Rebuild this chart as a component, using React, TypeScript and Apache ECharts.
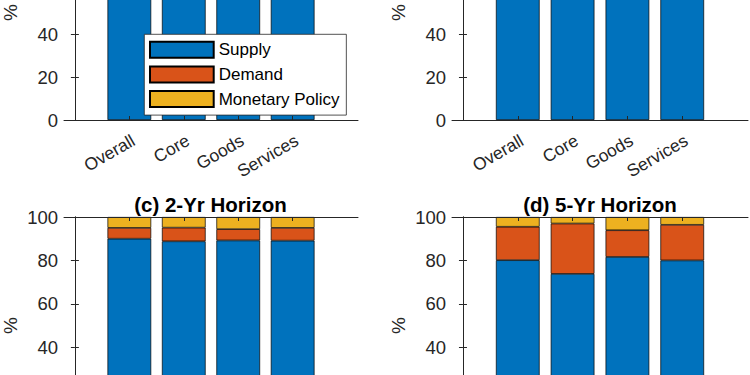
import React, { useEffect, useRef } from "react";
import * as echarts from "echarts";

const categories = ["Overall", "Core", "Goods", "Services"];
const seriesNames = ["Supply", "Demand", "Monetary Policy"];
const colors = ["#0072BD", "#D95319", "#EDB120"];

// (a) and (b): tops are outside the visible crop (estimated)
const supplyA = [98.5, 98.0, 98.6, 97.8];
const demandA = [0.8, 1.1, 0.7, 1.2];
const policyA = [0.7, 0.9, 0.7, 1.0];

const supplyB = [95.5, 94.8, 95.6, 94.9];
const demandB = [2.5, 3.1, 2.2, 3.0];
const policyB = [2.0, 2.1, 2.2, 2.1];

// (c) 2-Yr Horizon
const supplyC = [90.0, 88.8, 89.2, 89.1];
const demandC = [5.0, 6.3, 5.2, 5.9];
const policyC = [5.0, 4.9, 5.6, 5.0];

// (d) 5-Yr Horizon
const supplyD = [80.1, 73.8, 81.6, 80.0];
const demandD = [15.4, 23.2, 12.3, 16.4];
const policyD = [4.5, 3.0, 6.1, 3.6];

const panels = [
  [supplyA, demandA, policyA],
  [supplyB, demandB, policyB],
  [supplyC, demandC, policyC],
  [supplyD, demandD, policyD],
];

const yTicksTop = [0, 20, 40];
const yTicksBottom = [40, 60, 80, 100];

const FONT = "'Liberation Sans', Arial, Helvetica, sans-serif";
const INK = "#262626";
const SHIFT = 100; // chart canvas starts 100px above the visible window

export default function App() {
  const ref = useRef<HTMLDivElement>(null);

  useEffect(() => {
    document.body.style.margin = "0";
    if (!ref.current) return;
    const chart = echarts.init(ref.current, undefined, { renderer: "svg" });

    const grids = [
      { left: 63, top: -95 + SHIFT, width: 295, height: 215 },
      { left: 452, top: -95 + SHIFT, width: 296, height: 215 },
      { left: 63, top: 217 + SHIFT, width: 295, height: 217 },
      { left: 452, top: 217 + SHIFT, width: 296, height: 217 },
    ];

    const xAxes: any[] = [];
    const yAxes: any[] = [];
    const xPos = [1, 2, 3, 4];
    const labelPos = xPos.map((v) => v + 0.075);
    grids.forEach((g, p) => {
      const isTop = p < 2;
      xAxes.push({
        type: "value",
        gridIndex: p,
        position: "bottom",
        min: -0.2,
        max: 5.2,
        z: 5,
        splitLine: { show: false },
        axisLine: { show: true, onZero: false, lineStyle: { color: INK, width: 1 } },
        axisTick: { show: true, inside: true, length: 4, customValues: xPos, lineStyle: { color: INK } },
        axisLabel: {
          show: isTop,
          customValues: labelPos,
          formatter: (v: number) => categories[Math.round(v) - 1] ?? "",
          rotate: 30,
          margin: 19,
          fontSize: 17.5,
          fontFamily: FONT,
          color: INK,
        },
      });
      xAxes.push({
        type: "value",
        gridIndex: p,
        position: "top",
        min: -0.2,
        max: 5.2,
        z: 5,
        splitLine: { show: false },
        axisLine: { show: true, onZero: false, lineStyle: { color: INK, width: 1 } },
        axisTick: { show: true, inside: true, length: 4, customValues: xPos, lineStyle: { color: INK } },
        axisLabel: { show: false },
      });
      yAxes.push({
        type: "value",
        gridIndex: p,
        position: "left",
        min: 0,
        max: 100,
        interval: 20,
        z: 5,
        name: "%",
        nameLocation: "middle",
        nameRotate: 90,
        nameGap: 44,
        nameTextStyle: { fontSize: 19, fontFamily: FONT, color: INK },
        splitLine: { show: false },
        axisLine: { show: true, lineStyle: { color: INK, width: 1 } },
        axisTick: { show: true, inside: true, length: 4, lineStyle: { color: INK } },
        axisLabel: {
          show: true,
          customValues: isTop ? yTicksTop : yTicksBottom,
          margin: 6,
          fontSize: 18.5,
          fontFamily: FONT,
          color: INK,
        },
      });
      yAxes.push({
        type: "value",
        gridIndex: p,
        position: "right",
        min: 0,
        max: 100,
        interval: 20,
        z: 5,
        splitLine: { show: false },
        axisLine: { show: true, lineStyle: { color: INK, width: 1 } },
        axisTick: { show: true, inside: true, length: 4, lineStyle: { color: INK } },
        axisLabel: { show: false },
      });
    });

    const series: any[] = [];
    panels.forEach((vals, p) => {
      vals.forEach((arr, s) => {
        series.push({
          type: "bar",
          name: seriesNames[s],
          xAxisIndex: 2 * p,
          yAxisIndex: 2 * p,
          stack: "panel" + p,
          barWidth: 43.7,
          // value first so that it is the stacked dimension
          dimensions: ["share", "pos"],
          encode: { x: 1, y: 0 },
          data: arr.map((v, i) => [v, xPos[i]]),
          itemStyle: { color: colors[s], borderColor: "#000", borderWidth: 0.7 },
          z: 2,
        });
      });
    });

    const titleStyle = { fontSize: 20.5, fontWeight: "bold", fontFamily: FONT, color: "#000" };

    chart.setOption({
      animation: false,
      backgroundColor: "#ffffff",
      title: [
        {
          text: "(c) 2-Yr Horizon",
          left: 210.5,
          top: 194 + SHIFT,
          textAlign: "center",
          padding: 0,
          textStyle: titleStyle,
        },
        {
          text: "(d) 5-Yr Horizon",
          left: 600,
          top: 194 + SHIFT,
          textAlign: "center",
          padding: 0,
          textStyle: titleStyle,
        },
      ],
      legend: {
        show: true,
        orient: "vertical",
        left: 144.3,
        top: 34.3 + SHIFT,
        padding: [6.4, 6.7, 7, 4.7],
        itemWidth: 63.7,
        itemHeight: 16,
        itemGap: 6.7,
        selectedMode: false,
        backgroundColor: "#ffffff",
        borderColor: INK,
        borderWidth: 0.8,
        borderRadius: 0,
        data: seriesNames.map((n) => ({ name: n, icon: "rect" })),
        textStyle: { fontSize: 17, fontFamily: FONT, color: "#000" },
        z: 10,
      },
      grid: grids,
      xAxis: xAxes,
      yAxis: yAxes,
      series,
    });

    return () => chart.dispose();
  }, []);

  return (
    <div style={{ position: "fixed", left: 0, top: 0, width: 750, height: 375, overflow: "hidden", background: "#fff" }}>
      <div ref={ref} style={{ position: "absolute", left: 0, top: -SHIFT, width: 750, height: 375 + SHIFT + 90 }} />
    </div>
  );
}
